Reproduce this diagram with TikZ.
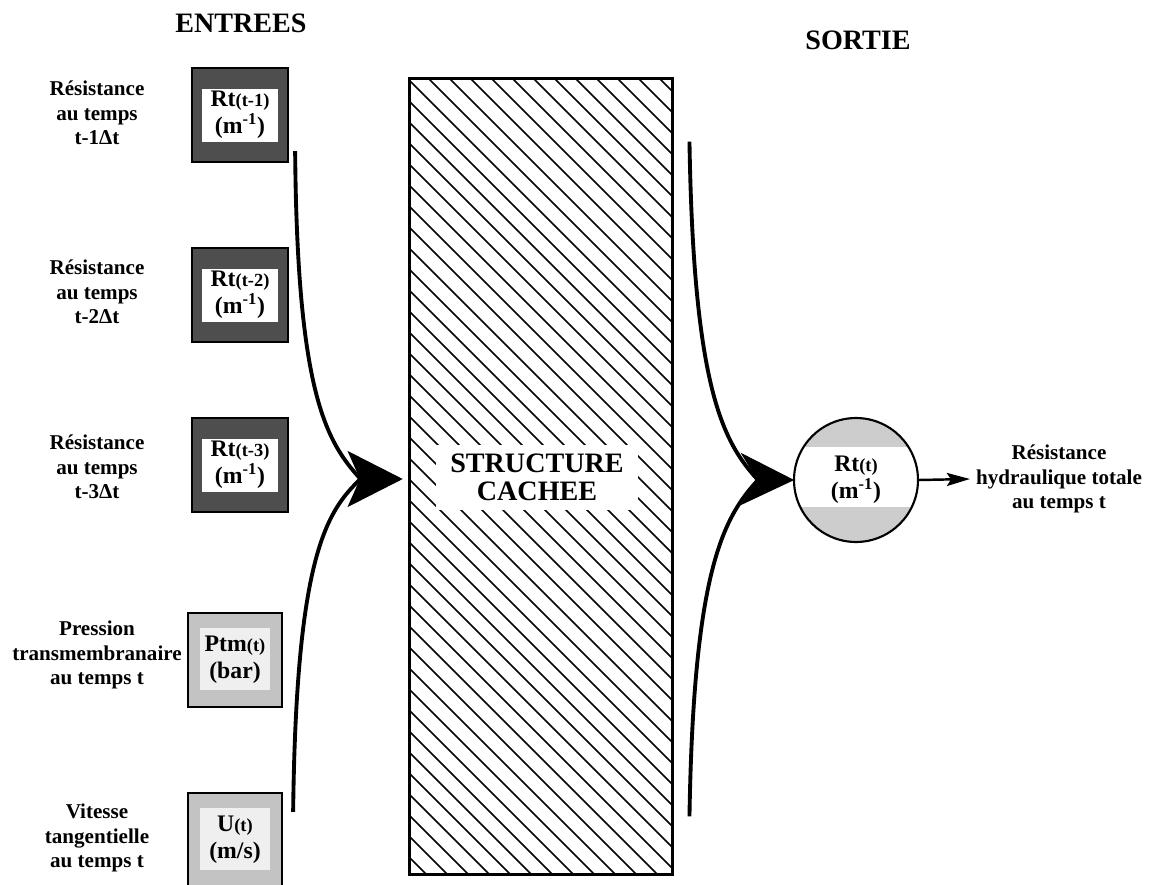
\documentclass[tikz,border=0pt]{standalone}
\usepackage{fontspec}
\setmainfont{Liberation Serif}
\usepackage{xcolor}
\usetikzlibrary{arrows.meta,calc}
\definecolor{rnDark}{HTML}{4E4E4E}
\definecolor{rnLight}{HTML}{C3C3C3}
\definecolor{rnPale}{HTML}{EFEFEF}
\definecolor{rnRing}{HTML}{CDCDCD}
\newcommand{\rnsmall}{\fontsize{10.5}{12}\selectfont}
\tikzset{
  rnbox/.style={rectangle,draw=black,line width=1.3pt,minimum width=1.92cm,
                minimum height=1.88cm,inner sep=0pt,align=center,
                font=\fontsize{13.5}{15.5}\selectfont\bfseries},
  rndark/.style={rnbox,fill=rnDark,
                 path picture={\fill[white]
                   ($(path picture bounding box.center)+(-38,-26)$) rectangle
                   ($(path picture bounding box.center)+(38,27)$);}},
  rnlight/.style={rnbox,minimum width=1.88cm,fill=rnLight,
                  path picture={\fill[rnPale]
                    ($(path picture bounding box.center)+(-35,-32)$) rectangle
                    ($(path picture bounding box.center)+(35,30)$);}},
  rnhatch/.style={line width=0.9pt,black},
  rnhidden/.style={rectangle,draw=black,line width=1.7pt,minimum width=5.28cm,
                   minimum height=15.94cm,inner sep=0pt,
                   path picture={\foreach \k in {-800,-779,...,280}
                     {\draw[rnhatch] ($(path picture bounding box.north west)+(\k,0)$)
                       -- ++(820,820);}}},
  rnhidlabel/.style={fill=white,align=center,inner xsep=8pt,inner ysep=5pt,
                     font=\fontsize{16}{16}\selectfont\bfseries},
  rnout/.style={circle,draw=black,line width=1.2pt,fill=rnRing,
                minimum size=2.48cm,inner sep=0pt,align=center,
                font=\fontsize{13.5}{15.5}\selectfont\bfseries,
                path picture={\fill[white]
                  ($(path picture bounding box.center)+(-70,-33)$) rectangle
                  ($(path picture bounding box.center)+(70,27)$);}},
  rnlabel/.style={align=center,font=\fontsize{12}{14}\selectfont\bfseries},
  rnhead/.style={font=\fontsize{16}{16}\selectfont\bfseries},
  rncurve/.style={line width=2.2pt,black},
  rntip/.style={fill=black,draw=black,line width=0.6pt,line join=miter},
  rnoutarrow/.style={line width=1.4pt,
                     -{Stealth[length=0.46cm,width=0.26cm,inset=0.08cm]}}
}
\begin{document}
\begin{tikzpicture}[x=0.02cm,y=-0.02cm]
  \useasboundingbox (0,0) rectangle (1152,885);

  % titres
  \node[rnhead] (hin) at (241,23) {ENTREES};
  \node[rnhead] (hout) at (858,40) {SORTIE};

  % entrees
  \node[rndark] (rt1) at (240,115) {Rt{\rnsmall(t-1)}\\(m\textsuperscript{-1})};
  \node[rndark] (rt2) at (240,295) {Rt{\rnsmall(t-2)}\\(m\textsuperscript{-1})};
  \node[rndark] (rt3) at (240,465) {Rt{\rnsmall(t-3)}\\(m\textsuperscript{-1})};
  \node[rnlight] (ptm) at (235,660) {Ptm{\rnsmall(t)}\\(bar)};
  \node[rnlight] (u) at (235,840) {U{\rnsmall(t)}\\(m/s)};

  \node[rnlabel] (l1) at (97,113) {Résistance\\au temps\\t-1Δt};
  \node[rnlabel] (l2) at (97,292) {Résistance\\au temps\\t-2Δt};
  \node[rnlabel] (l3) at (97,467) {Résistance\\au temps\\t-3Δt};
  \node[rnlabel] (l4) at (97,655) {Pression\\transmembranaire\\au temps t};
  \node[rnlabel] (l5) at (97,838) {Vitesse\\tangentielle\\au temps t};

  % structure cachee
  \node[rnhidden] (hid) at (541,476.5) {};
  \node[rnhidlabel] (hidtxt) at ($(hid.center)+(-4,1)$) {STRUCTURE\\CACHEE};

  % sortie
  \node[rnout] (rto) at (856,480) {Rt{\rnsmall(t)}\\(m\textsuperscript{-1})};
  \node[rnlabel] (res) at (1059,479) {Résistance\\hydraulique totale\\au temps t};

  % fleches
  \coordinate (ltip) at ($(hid.west)+(-6,2.5)$);
  \coordinate (lnotch) at ($(ltip)+(-41,0)$);
  \coordinate (rtip) at (rto.west);
  \coordinate (rnotch) at ($(rtip)+(-35,0)$);

  \draw[rncurve] ($(rt1.south east)+(6,-12)$)
    .. controls +(2,240) and +(-35,-38) .. (lnotch);
  \draw[rncurve] ($(u.north east)+(10,20)$)
    .. controls +(3,-253) and +(-35,33) .. (lnotch);
  \fill[rntip] (ltip) -- ++(-53,-27) -- ++(12,27) -- ++(-12,27) -- cycle;

  \draw[rncurve] ($(hid.north east)+(15,65)$)
    .. controls +(4,247) and +(-35,-38) .. (rnotch);
  \draw[rncurve] ($(hid.south east)+(15,-60)$)
    .. controls +(4,-245) and +(-35,38) .. (rnotch);
  \fill[rntip] (rtip) -- ++(-51,-26) -- ++(16,26) -- ++(-16,24) -- cycle;

  \draw[rnoutarrow] (rto.east) -- (res.west);
\end{tikzpicture}
\end{document}
